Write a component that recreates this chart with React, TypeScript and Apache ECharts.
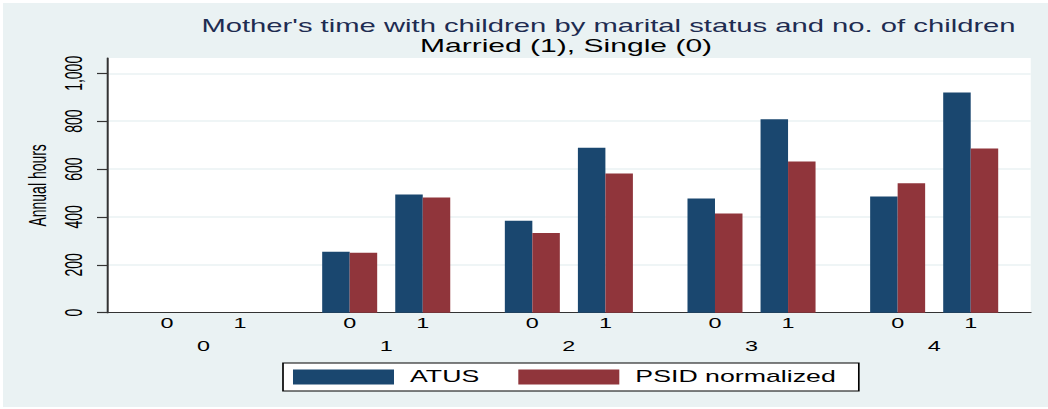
import React, { useEffect, useRef } from "react";
import * as echarts from "echarts";

// ---- data ----
const groups = ["0", "1", "2", "3", "4"]; // number of children
const subLabels = ["0", "1"]; // Single (0), Married (1)
const atusSingle: (number | null)[] = [null, 255, 384, 477, 485];
const atusMarried: (number | null)[] = [null, 494, 689, 808, 920];
const psidSingle: (number | null)[] = [null, 250, 333, 414, 541];
const psidMarried: (number | null)[] = [null, 481, 582, 632, 686];
const yTicks = [0, 200, 400, 600, 800, 1000];
const seriesNames = ["ATUS", "PSID normalized"];
const titleText = "Mother's time with children by marital status and no. of children";
const subtitleText = "Married (1), Single (0)";

// ---- layout ----
const S = 1.67; // horizontal stretch of the whole picture
const W = 1048;
const H = 409;
const X = (px: number) => px / S;
const GROUP_STEP = 2.5;
const pos = (g: number, s: number) => g * GROUP_STEP + s;
const FONT = "'Liberation Sans', Arial, Helvetica, sans-serif";

export default function App() {
  const ref = useRef<HTMLDivElement>(null);
  useEffect(() => {
    if (!ref.current) return;
    const chart = echarts.init(ref.current, undefined, { renderer: "svg" });

    const subPositions: number[] = [];
    groups.forEach((_, g) => subLabels.forEach((__, s) => subPositions.push(pos(g, s))));
    const groupPositions = groups.map((_, g) => pos(g, 0.5));

    const atusData = groups.flatMap((_, g) => [
      [pos(g, 0), atusSingle[g]],
      [pos(g, 1), atusMarried[g]],
    ]);
    const psidData = groups.flatMap((_, g) => [
      [pos(g, 0), psidSingle[g]],
      [pos(g, 1), psidMarried[g]],
    ]);

    const xMin = -0.808;
    const xMax = 11.822;
    const axisColor = "#333";

    chart.setOption({
      animation: false,
      backgroundColor: "#eaf2f3",
      textStyle: { fontFamily: FONT },
      graphic: [
        { type: "rect", shape: { x: 0, y: 0, width: X(W), height: 3 }, style: { fill: "#fff" }, silent: true },
        { type: "rect", shape: { x: 0, y: 0, width: X(3), height: H }, style: { fill: "#fff" }, silent: true },
        { type: "rect", shape: { x: 0, y: 407, width: X(W), height: 2 }, style: { fill: "#fff" }, silent: true },
        {
          type: "text",
          x: X(608.5),
          y: 26,
          style: {
            text: titleText,
            fontSize: 17.5,
            fontFamily: FONT,
            fill: "#1e2c51",
            align: "center",
            verticalAlign: "middle",
          },
        },
        {
          type: "text",
          x: X(566),
          y: 45.5,
          style: {
            text: subtitleText,
            fontSize: 18,
            fontFamily: FONT,
            fill: "#000",
            align: "center",
            verticalAlign: "middle",
          },
        },
      ],
      grid: {
        left: X(108),
        right: X(18),
        top: 58,
        bottom: H - 312.7,
        show: true,
        backgroundColor: "#fff",
        borderWidth: 0,
        containLabel: false,
      },
      legend: {
        data: seriesNames,
        left: X(283),
        top: 363,
        orient: "horizontal",
        icon: "rect",
        itemWidth: X(101),
        itemHeight: 15,
        itemGap: X(39),
        padding: [6, X(23), 6, X(10)],
        backgroundColor: "#fff",
        borderColor: "#000",
        borderWidth: 1,
        borderRadius: 0,
        textStyle: { fontSize: 16, color: "#000", fontFamily: FONT, padding: [0, 0, 0, 4.6] },
      },
      xAxis: [
        {
          type: "value",
          min: xMin,
          max: xMax,
          position: "bottom",
          axisLine: { show: true, onZero: false, lineStyle: { color: axisColor, width: 1.2 } },
          axisTick: { show: false },
          splitLine: { show: false },
          axisLabel: {
            customValues: subPositions,
            margin: 3.3,
            fontSize: 14,
            color: "#000",
            fontFamily: FONT,
            formatter: (v: number) => subLabels[(Math.round(v * 2) % 5) / 2] ?? "",
          },
        },
        {
          type: "value",
          min: xMin,
          max: xMax,
          position: "bottom",
          axisLine: { show: false, onZero: false },
          axisTick: { show: false },
          splitLine: { show: false },
          axisLabel: {
            customValues: groupPositions,
            margin: 27,
            fontSize: 14,
            color: "#000",
            fontFamily: FONT,
            formatter: (v: number) => groups[Math.round((v - 0.5) / GROUP_STEP)] ?? "",
          },
        },
      ],
      yAxis: {
        type: "value",
        min: 0,
        max: 1064,
        interval: 200,
        name: "Annual hours",
        nameLocation: "middle",
        nameGap: 31,
        nameTextStyle: { fontSize: 14, color: "#000", fontFamily: FONT },
        axisLine: { show: true, onZero: false, lineStyle: { color: axisColor, width: 1.2 } },
        axisTick: {
          show: true,
          customValues: yTicks,
          length: X(11),
          lineStyle: { color: axisColor, width: 1.2 },
        },
        splitLine: { show: true, lineStyle: { color: "#eaf2f3", width: 1.6 } },
        axisLabel: {
          customValues: yTicks,
          rotate: 90,
          margin: 13,
          fontSize: 14,
          color: "#000",
          fontFamily: FONT,
          formatter: (v: number) => v.toLocaleString("en-US"),
        },
      },
      series: [
        {
          name: seriesNames[0],
          type: "bar",
          xAxisIndex: 0,
          data: atusData,
          barWidth: X(27.5),
          barGap: "0%",
          itemStyle: { color: "#1a476f" },
        },
        {
          name: seriesNames[1],
          type: "bar",
          xAxisIndex: 0,
          data: psidData,
          barWidth: X(27.5),
          barGap: "0%",
          itemStyle: { color: "#90353b" },
        },
      ],
    });
    return () => chart.dispose();
  }, []);

  return (
    <div
      style={{
        position: "fixed",
        left: 0,
        top: 0,
        width: W,
        height: H,
        overflow: "hidden",
        background: "#fff",
      }}
    >
      <div
        ref={ref}
        style={{
          width: X(W),
          height: H,
          transform: `scaleX(${S})`,
          transformOrigin: "0 0",
        }}
      />
    </div>
  );
}
